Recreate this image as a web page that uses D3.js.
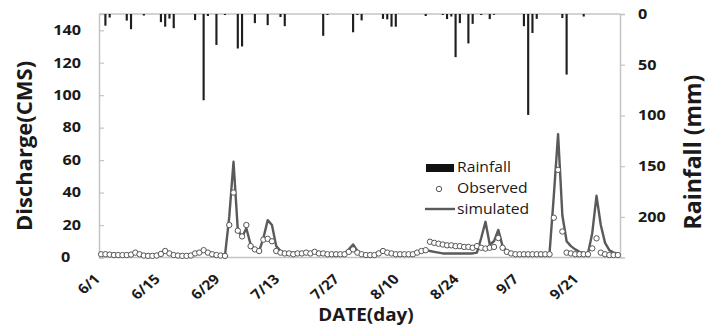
<!doctype html>
<html lang="en">
<head>
<meta charset="UTF-8">
<title>Discharge and rainfall</title>
<script src="https://cdn.jsdelivr.net/npm/d3@7"></script>
<style>
    body { margin: 0; background: #fff; }
    svg { display: block; }
    text { font-family: "Open Sans", "DejaVu Sans", sans-serif; fill: #1a1a1a; }
</style>
</head>
<body>
<script>
// months covered by the chart (June to September)
var months = [6, 7, 8, 9];
var monthDays = [30, 31, 31, 30];

var categories = [];
months.forEach(function (m, i) {
    for (var d = 1; d <= monthDays[i]; d++) categories.push(m + "/" + d);
});

var tickLabels = ["6/1", "6/15", "6/29", "7/13", "7/27", "8/10", "8/24", "9/7", "9/21"];
var leftTicks = [0, 20, 40, 60, 80, 100, 120, 140];
var rightTicks = [0, 50, 100, 150, 200];

// observed discharge (CMS), one value per day
var observed = [
    2, 2, 1.8, 1.5, 1.5, 1.5, 1.5, 1.8, 3, 2,
    1.2, 1, 1, 1.2, 2.2, 4, 2.5, 1.5, 1.2, 1,
    1, 1.2, 2.5, 3, 4.5, 3, 2, 1.5, 1.2, 1,
    20, 40, 16.5, 13, 20, 7, 5, 4, 11, 11.5,
    10, 4, 3, 2.5, 2.5, 2, 2.5, 2.5, 3, 2.5,
    3.5, 2.5, 2.5, 2, 2, 2, 2, 2, 3.5, 5,
    3, 2, 1.5, 1.5, 1.5, 2.5, 4, 3, 2.5, 2,
    2, 2, 2, 2, 3, 4, 4.5, 9.7, 9, 8.5,
    8, 7.5, 7.5, 7, 7, 6.5, 6.5, 6, 7, 6,
    5.5, 6, 6.5, 12, 6, 3.5, 2.5, 2, 2, 2,
    2, 2, 2, 2, 2, 2, 24.5, 54, 16, 3,
    2.5, 2, 2, 2, 2, 5.6, 11.8, 3, 2, 1.5,
    1.5, 1.5
];

// simulated discharge (CMS)
var simulated = [
    2, 1.8, 1.6, 1.5, 1.5, 1.5, 1.5, 1.8, 2.8, 2,
    1.2, 1, 1, 1.2, 2.5, 4, 2.5, 1.5, 1.2, 1,
    1, 1.2, 3, 3.5, 4.5, 3, 2.2, 1.8, 1.5, 1.2,
    25, 59, 17, 12.5, 18, 8, 5, 4, 12, 23,
    20, 7, 4, 3, 3, 3, 3, 3, 3, 3,
    3.5, 2.5, 2.5, 2.5, 2.5, 2.5, 2.5, 2.5, 5, 8,
    4, 2, 1.8, 1.8, 1.8, 3, 4.5, 3, 2.5, 2.5,
    2.2, 2.2, 2.2, 2.2, 3, 4.5, 4.5, 4, 3.5, 3,
    2.5, 2.5, 2.5, 2.5, 2.5, 2.5, 2.5, 2.5, 3, 12,
    22, 8, 10, 17, 7, 4, 3, 2.5, 2.2, 2,
    2, 2, 2, 2, 2, 2.5, 38, 76, 26, 10,
    7, 5, 3.5, 2.8, 2.5, 15, 38, 20, 9, 4.5,
    3, 2.5
];

// daily rainfall (mm)
var rainfall = [
    0, 11.5, 3.5, 0, 0, 0, 6.5, 15, 0, 0,
    1.5, 0, 0, 0, 8, 12.5, 4.5, 14, 0, 0,
    0, 0, 6, 0, 85, 2, 0, 30.5, 0, 1,
    0, 0, 34, 32, 0, 0, 9, 0, 0, 11,
    0, 0, 3, 12, 0, 0, 0, 0, 0, 0,
    0, 0, 21.5, 1, 0, 0, 0, 0, 0, 18,
    1, 6.3, 0, 0, 0, 0, 4.8, 5.3, 12.5, 12.5,
    0, 0, 0, 0, 0, 0, 2, 0, 0, 0,
    1, 5, 2.5, 42.5, 9, 0, 29, 9.7, 0, 1,
    0, 5, 0.8, 0, 0, 0, 0, 0, 0, 12,
    99.5, 18.7, 4.8, 0, 0, 0, 0, 0, 4, 59.7,
    0, 0, 0, 2.5, 0, 0, 0, 0, 0, 0,
    0, 0
];

var width = 710, height = 334;
var plotLeft = 99, plotRight = 620, plotTop = 14, plotBottom = 257.5;

var svg = d3.select("body").append("svg").attr("width", width).attr("height", height);

var x = d3.scaleBand().domain(categories).range([plotLeft, plotRight]).paddingInner(0.5).paddingOuter(0.25);
var cx = function (d, i) { return x(categories[i]) + x.bandwidth() / 2; };
var yL = d3.scaleLinear().domain([0, 150]).range([plotBottom, plotTop]);
var yR = d3.scaleLinear().domain([0, 240]).range([plotTop, plotBottom]);

// stretch horizontal text a bit like the original picture
function stretch(sel, sx) {
    sel.each(function () {
        var t = d3.select(this);
        var tx = +t.attr("x") || 0;
        t.attr("x", tx / sx).attr("transform", "scale(" + sx + ",1)");
    });
}

// left axis
var gl = svg.append("g").attr("transform", "translate(" + plotLeft + ",0)")
    .call(d3.axisLeft(yL).tickValues(leftTicks).tickSize(-5).tickPadding(18));
gl.select(".domain").attr("stroke", "#c4c4c4").attr("stroke-width", 1.5);
gl.selectAll(".tick line").attr("stroke", "#c4c4c4").attr("stroke-width", 1.2);
gl.selectAll(".tick text").attr("font-size", 13.5).attr("font-weight", "bold")
    .attr("font-family", "Open Sans").attr("fill", "#1a1a1a");
gl.selectAll(".tick text").filter(function (d) { return d === 0; }).attr("dx", -9);
stretch(gl.selectAll(".tick text"), 1.2);

// right axis
var gr = svg.append("g").attr("transform", "translate(" + plotRight + ",0)")
    .call(d3.axisRight(yR).tickValues(rightTicks).tickSize(5).tickPadding(13));
gr.select(".domain").attr("stroke", "#c4c4c4").attr("stroke-width", 1.5);
gr.selectAll(".tick line").attr("stroke", "#c4c4c4").attr("stroke-width", 1.2);
gr.selectAll(".tick text").attr("font-size", 13.5).attr("font-weight", "bold")
    .attr("font-family", "Open Sans").attr("fill", "#1a1a1a");
stretch(gr.selectAll(".tick text"), 1.2);

// top and bottom lines
svg.append("line").attr("x1", plotLeft).attr("x2", plotRight).attr("y1", plotTop).attr("y2", plotTop)
    .attr("stroke", "#c4c4c4").attr("stroke-width", 1.5);
svg.append("line").attr("x1", plotLeft).attr("x2", plotRight).attr("y1", plotBottom).attr("y2", plotBottom)
    .attr("stroke", "#c4c4c4").attr("stroke-width", 1.5);

// rainfall bars hanging from the top
svg.append("g").selectAll("rect")
    .data(rainfall)
    .enter()
    .append("rect")
    .attr("x", function (d, i) { return x(categories[i]); })
    .attr("y", plotTop)
    .attr("width", x.bandwidth())
    .attr("height", function (d) { return yR(d) - plotTop; })
    .attr("fill", "#1e1e1e");

// simulated line
var line = d3.line().x(cx).y(function (d) { return yL(d); });
svg.append("path").datum(simulated)
    .attr("d", line)
    .attr("fill", "none")
    .attr("stroke", "#5a5a5a")
    .attr("stroke-width", 2.4)
    .attr("stroke-linejoin", "round");

// observed points
svg.append("g").selectAll("circle")
    .data(observed)
    .enter()
    .append("circle")
    .attr("cx", cx)
    .attr("cy", function (d) { return yL(d); })
    .attr("r", 2.7)
    .attr("fill", "#fff")
    .attr("stroke", "#555")
    .attr("stroke-width", 1);

// x tick labels, rotated
svg.append("g").selectAll("text")
    .data(tickLabels)
    .enter()
    .append("text")
    .text(function (d) { return d; })
    .attr("text-anchor", "end")
    .attr("font-size", 13.5)
    .attr("font-weight", "bold")
    .attr("transform", function (d) {
        var px = x(d) + x.bandwidth() / 2;
        return "translate(" + px + ",280) scale(1.15,1) rotate(-45)";
    });

// axis titles
svg.append("text").text("Discharge(CMS)")
    .attr("text-anchor", "middle").attr("font-size", 22).attr("font-weight", "bold")
    .attr("transform", "translate(32,146) rotate(-90)");
svg.append("text").text("Rainfall (mm)")
    .attr("text-anchor", "middle").attr("font-size", 23).attr("font-weight", "bold")
    .attr("transform", "translate(701,152) rotate(-90)");
svg.append("text").text("DATE(day)")
    .attr("text-anchor", "middle").attr("font-size", 18).attr("font-weight", "bold")
    .attr("transform", "translate(366,321) scale(1.05,1)");

// legend
var lg = svg.append("g");
lg.append("rect").attr("x", 426).attr("y", 164).attr("width", 28).attr("height", 8).attr("fill", "#111");
lg.append("circle").attr("cx", 439).attr("cy", 189).attr("r", 2.7)
    .attr("fill", "#fff").attr("stroke", "#555");
lg.append("line").attr("x1", 425).attr("x2", 455).attr("y1", 209).attr("y2", 209)
    .attr("stroke", "#5a5a5a").attr("stroke-width", 2.4);
var legendNames = ["Rainfall", "Observed", "simulated"];
lg.selectAll("text.lab")
    .data(legendNames)
    .enter()
    .append("text")
    .attr("class", "lab")
    .text(function (d) { return d; })
    .attr("font-size", 14)
    .attr("fill", "#333")
    .attr("transform", function (d, i) {
        return "translate(457," + (172 + i * 21) + ") scale(1.12,1)";
    });
</script>
</body>
</html>
